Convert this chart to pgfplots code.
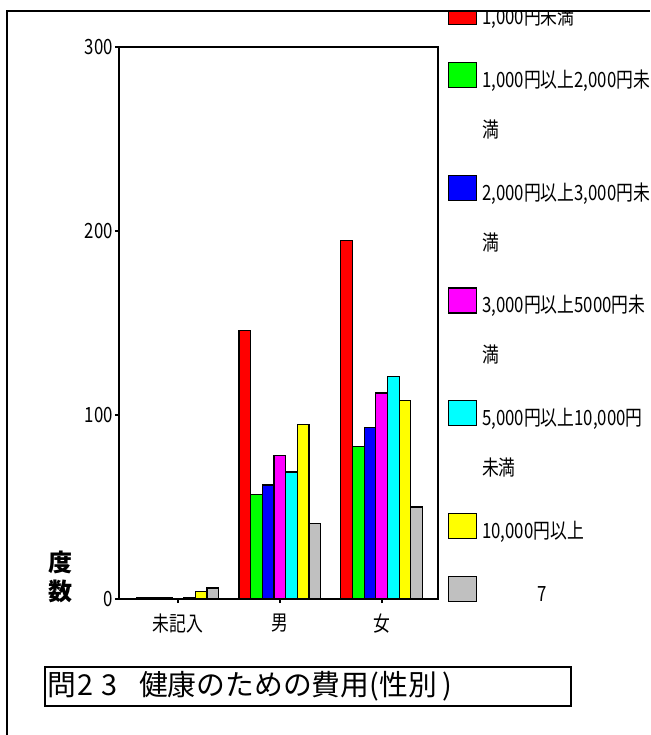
\documentclass[border=0pt]{standalone}
\usepackage{fontspec}
\setmainfont{Noto Sans CJK JP}
\newfontfamily\narrowfont{Noto Sans CJK JP}[FakeStretch=0.8]
\usepackage{pgfplots}
\pgfplotsset{compat=1.18}
\definecolor{cRed}{RGB}{255,0,0}
\definecolor{cGreen}{RGB}{0,255,0}
\definecolor{cBlue}{RGB}{0,0,255}
\definecolor{cMagenta}{RGB}{255,0,255}
\definecolor{cCyan}{RGB}{0,255,255}
\definecolor{cYellow}{RGB}{255,255,0}
\definecolor{cGray}{RGB}{192,192,192}

\begin{document}
\begin{tikzpicture}
\useasboundingbox (0,0) rectangle (325pt,367.5pt);
\begin{axis}[
  at={(59.5pt,68pt)}, anchor=south west,
  scale only axis, width=159.5pt, height=276pt,
  xmin=-0.578, xmax=2.553, ymin=0, ymax=300,
  xtick={0,1,2}, xticklabels={未記入,男,女},
  ytick={0,100,200,300},
  tick pos=left, tick align=outside, major tick length=2pt,
  tick style={line width=1.1pt, black},
  axis line style={line width=0.6pt},
  /pgf/number format/assume math mode=true,
  tick label style={font=\narrowfont\fontsize{10.5}{12}\selectfont},
  xticklabel style={yshift=-2pt},
  yticklabel style={xshift=2.5pt},
  bars/.style={ybar, bar width=5.83pt, draw=black, line width=0.6pt,
    legend image code/.code={\draw[##1,/tikz/.cd,draw=black,line width=0.6pt] (0pt,0pt) rectangle (14pt,12.5pt);}},
  % entries that wrap onto a second line: box beside the first line
  twoline/.style={
    legend image code/.code={\draw[##1,/tikz/.cd,draw=black,line width=0.6pt] (0pt,25pt) rectangle (14pt,37.5pt);}},
  legend style={at={(1.0313,1.087)}, anchor=north west, draw=none, fill=none,
    inner sep=0pt, outer sep=0pt, row sep=15.1pt, column sep=0.5pt,
    font=\narrowfont\fontsize{10.5}{25}\selectfont,
    cells={anchor=base west, inner sep=0pt, align=left}},
]
\addplot[bars, fill=cRed, bar shift=-17.49pt] coordinates {(0,1) (1,146) (2,195)};
\addlegendentry{1,000円未満}
\addplot[bars, twoline, fill=cGreen, bar shift=-11.66pt] coordinates {(0,1) (1,57) (2,83)};
\addlegendentry{1,000円以上2,000円未\\満}
\addplot[bars, twoline, fill=cBlue, bar shift=-5.83pt] coordinates {(0,1) (1,62) (2,93)};
\addlegendentry{2,000円以上3,000円未\\満}
\addplot[bars, twoline, fill=cMagenta, bar shift=0pt] coordinates {(1,78) (2,112)};
\addlegendentry{3,000円以上5000円未\\満}
\addplot[bars, twoline, fill=cCyan, bar shift=5.83pt] coordinates {(0,1) (1,69) (2,121)};
\addlegendentry{5,000円以上10,000円\\未満}
\addplot[bars, fill=cYellow, bar shift=11.66pt] coordinates {(0,4) (1,95) (2,108)};
\addlegendentry{10,000円以上}
\addplot[bars, fill=cGray, bar shift=17.49pt] coordinates {(0,6) (1,41) (2,50)};
\addlegendentry{\hspace*{27.5pt}7}
\end{axis}
% y label
\node[align=center, font=\bfseries\fontsize{12}{14.5}\selectfont] at (30pt,79.25pt) {度\\数};
% title box
\draw[line width=0.9pt] (22.5pt,14.5pt) rectangle (285.5pt,34pt);
\node[anchor=west, inner sep=0pt, font=\fontsize{14.4}{16}\selectfont] at (23.5pt,24.25pt)
  {問\hspace{0.5pt}2\hspace{4pt}3\hspace{11pt}健康のための費用(性別\hspace{3pt})};
% outer frame, content above it is cut off
\fill[white] (0,362.15pt) rectangle (325pt,367.5pt);
\draw[line width=0.85pt] (3.65pt,0) -- (3.65pt,362.15pt) -- (325pt,362.15pt);
\end{tikzpicture}
\end{document}
